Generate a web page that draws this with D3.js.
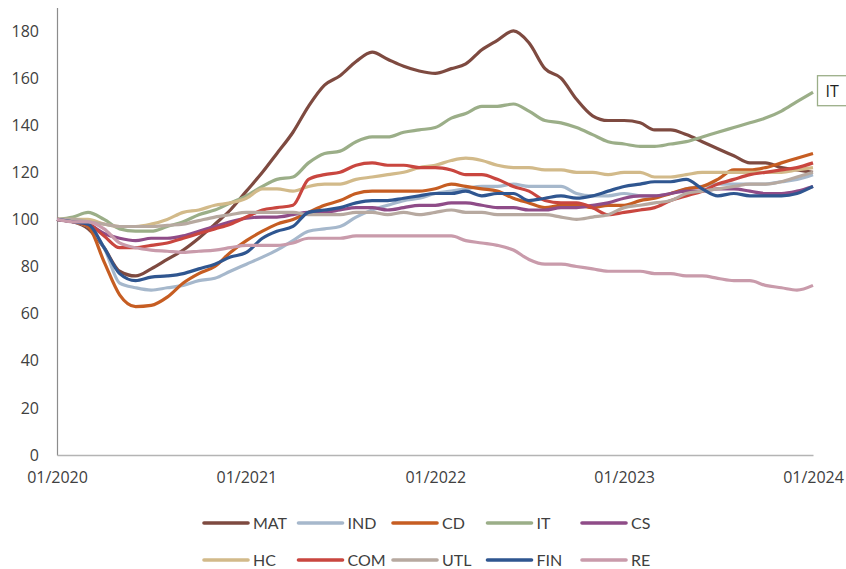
<!DOCTYPE html>
<html>
<head>
<meta charset="utf-8">
<script src="https://cdn.jsdelivr.net/npm/d3@7"></script>
<style>
body{margin:0;background:#fff;}
svg{display:block;}
.axis text{font-family:"Open Sans",sans-serif;font-size:16px;fill:#404040;}
.legend text{font-family:Lato,sans-serif;font-size:16px;fill:#404040;}
</style>
</head>
<body>
<svg id="chart" width="846" height="569"></svg>
<script>
// monthly points, 01/2020 .. 01/2024
var months=d3.timeMonths(new Date(2020,0,1),new Date(2024,0,2));
var xTicks=["2020-01","2021-01","2022-01","2023-01","2024-01"];
var yTicks=[0,20,40,60,80,100,120,140,160,180];
var names=["MAT","IND","CD","IT","CS","HC","COM","UTL","FIN","RE"];
var colors=["#7e4a40","#a6b8cc","#c65d22","#9bae88","#8f4c88","#d2ba8a","#c9463f","#b7a9a0","#2f5690","#c99bab"];

var MAT=[100,99,96,88,78,76,79,83,87,92,98,104,112,120,128,137,148,157,161,167,171,168,165,163,162,164,166,172,176,180,175,164,160,151,144,142,142,141,138,138,136,133,130,127,124,124,122,121,120];
var IND=[100,99,97,88,73,71,70,71,72,74,75,78,81,84,87,91,95,96,97,101,104,106,108,109,111,112,113,114,114,115,114,114,114,111,110,110,111,110,110,111,113,114,115,115,115,115,116,117,119];
var CD=[100,99,97,82,68,63,63.5,67,73,77,80,86,91,95,98,100,103,106,108,111,112,112,112,112,113,115,114,113,112,109,107,105,106,106,105,106,106,108,109,111,113,114,117,121,121,122,124,126,128];
var IT=[100,101,103,100,96,95,95,97,99,102,104,107,110,114,117,118,124,128,129,133,135,135,137,138,139,143,145,148,148,149,146,142,141,139,136,133,132,131,131,132,133,135,137,139,141,143,146,150,154];
var CS=[100,99,98,94,92,91,92,92,93,95,97,99,100.5,101,101,102,103,103,104,105,105,104,105,106,106,107,107,106,105,105,104,104,105,105,106,107,109,110,110,111,112,112,113,113,112,111,111,112,114];
var HC=[100,100,100,98,97,97,98,100,103,104,106,107,109,113,113,112,114,115,115,117,118,119,120,122,123,125,126,125,123,122,122,121,121,120,120,119,120,120,118,118,119,120,120,120,120,120,120,121,122];
var COM=[100,99,98,93,88,88,89,90,92,94,96,98,101,104,105,106,117,119,120,123,124,123,123,122,122,121,119,119,117,114,112,108,107,107,105,102,103,104,105,108,110,112,115,117,119,120,121,122,124];
var UTL=[100,100,99,98,97,97,97,97.5,98,99.5,101,102,103,103,103,103,102,102,102,103,103,102,103,102,103,104,103,103,102,102,102,102,101,100,101,102,105,106,107,108,111,112,113,114,115,115,116,118,120];
var FIN=[100,99,98,88,77,74,75.5,76,77,79,81,84,86,92,95,97,103,104,105,107,108,108,109,110,111,111,112,110,111,111,108,109,110,109,110,112,114,115,116,116,117,113,110,111,110,110,110,111,114];
var RE=[100,99,99,96,90,88,87,86.5,86,86.5,87,88,89,89,89,90,92,92,92,93,93,93,93,93,93,93,91,90,89,87,83,81,81,80,79,78,78,78,77,77,76,76,75,74,74,72,71,70,72];
var seriesValues=[MAT,IND,CD,IT,CS,HC,COM,UTL,FIN,RE];

var svg=d3.select("#chart");
var parseMonth=d3.timeParse("%Y-%m");
var x=d3.scaleTime()
        .domain([new Date(2020,0,1),new Date(2024,0,1)])
        .range([57,813]);
var y=d3.scaleLinear()
        .domain([0,190])
        .range([455,7.4]);

// y axis
var yAxis=d3.axisLeft(y).tickValues(yTicks).tickSize(0).tickPadding(18);
var gy=svg.append("g").attr("class","axis").attr("transform","translate(57,0)").call(yAxis);
gy.select(".domain").attr("stroke","#8c8c8c").attr("stroke-width",1.2);

// x axis
var xAxis=d3.axisBottom(x)
            .tickValues(xTicks.map(parseMonth))
            .tickFormat(d3.timeFormat("%m/%Y"))
            .tickSize(0)
            .tickPadding(17);
var gx=svg.append("g").attr("class","axis").attr("transform","translate(0,455)").call(xAxis);
gx.select(".domain").attr("stroke","#b4b4b4").attr("stroke-width",1.6);

// lines
var line=d3.line()
           .curve(d3.curveMonotoneX)
           .x(function(d,i){return x(months[i]);})
           .y(function(d){return y(d);});
names.forEach(function(name,k){
	svg.append("path")
	   .attr("d",line(seriesValues[k]))
	   .attr("fill","none")
	   .attr("stroke",colors[k])
	   .attr("stroke-width",3.2)
	   .attr("stroke-linejoin","round")
	   .attr("class","line_"+name);
});

// IT label box
var itEnd=IT[IT.length-1];
var lab=svg.append("g").attr("transform","translate(817.5,"+(y(itEnd)-16.5)+")");
lab.append("rect").attr("width",40).attr("height",30)
   .attr("fill","#fff").attr("stroke","#9bae88").attr("stroke-width",1.3);
lab.append("text").attr("x",8).attr("y",21)
   .style("font-family","'Open Sans',sans-serif").style("font-size","16px").style("fill","#222")
   .text("IT");

// legend, 2 rows of 5
var legend=svg.append("g").attr("class","legend");
names.forEach(function(name,k){
	var col=k%5,row=Math.floor(k/5);
	var g=legend.append("g").attr("transform","translate("+(203+col*94.5)+","+(523+row*37)+")");
	g.append("line").attr("x1",1).attr("x2",45).attr("y1",0).attr("y2",0)
	 .attr("stroke",colors[k]).attr("stroke-width",3.6).attr("stroke-linecap","round");
	g.append("text").attr("x",50).attr("y",6).text(name);
});
</script>
</body>
</html>
